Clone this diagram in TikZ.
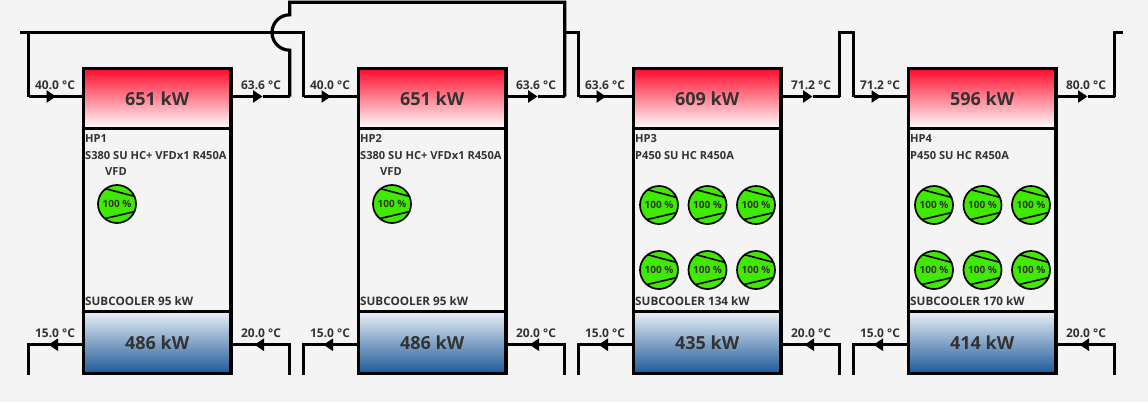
\documentclass[tikz,border=0pt]{standalone}
\usepackage{fontspec}
\setmainfont{Open Sans}
\usetikzlibrary{arrows.meta}
\definecolor{bgcol}{HTML}{F4F4F4}
\definecolor{txtcol}{HTML}{333333}
\definecolor{hotcol}{HTML}{FF0A2A}
\definecolor{coldtop}{HTML}{E9EEF5}
\definecolor{coldcol}{HTML}{1C5A99}
\definecolor{compcol}{HTML}{40EA00}
\tikzset{
  pipe/.style={line width=3.2pt,miter limit=10},
  flow/.style={pipe,-{Triangle[length=9.5pt,width=12pt]}},
  unitbox/.style={draw,line width=3.2pt,minimum width=147.7pt,outer sep=0pt,inner sep=0pt},
  hotbox/.style={unitbox,minimum height=60pt,top color=hotcol,bottom color=white},
  midbox/.style={unitbox,minimum height=183.4pt},
  coldbox/.style={unitbox,minimum height=61.6pt,top color=coldtop,bottom color=coldcol},
  power/.style={text=txtcol,font=\fontsize{18}{20}\selectfont\bfseries},
  templabel/.style={text=txtcol,font=\fontsize{12}{13}\selectfont\bfseries,inner sep=0pt},
  infolabel/.style={text=txtcol,font=\fontsize{11.1}{13}\selectfont\bfseries,inner sep=0pt,anchor=west},
  sublabel/.style={infolabel,font=\fontsize{11.7}{13}\selectfont\bfseries},
  comp/.style={circle,draw,line width=1.7pt,fill=compcol,minimum size=38pt,inner sep=0pt,
    text=txtcol,font=\fontsize{10}{11}\selectfont\bfseries,
    path picture={
      \draw[line width=1.6pt] (path picture bounding box.center) ++(-14,-16) -- ++(32,8.5);
      \draw[line width=1.6pt] (path picture bounding box.center) ++(-14,15) -- ++(32,-7.5);
    }}
}
\begin{document}
\begin{tikzpicture}[x=1pt,y=-1pt]
  \fill[bgcol] (0,0) rectangle (1148,402);
  \useasboundingbox (0,0) rectangle (1148,402);

  % the four units
  \foreach \i/\x/\name/\model/\hot/\cold/\sub/\tin/\tout in {
    1/0/HP1/S380 SU HC+ VFDx1 R450A/651/486/95/40.0/63.6,
    2/275/HP2/S380 SU HC+ VFDx1 R450A/651/486/95/40.0/63.6,
    3/550/HP3/P450 SU HC R450A/609/435/134/63.6/71.2,
    4/825/HP4/P450 SU HC R450A/596/414/170/71.2/80.0} {
    \node[hotbox,power] (hot\i) at (157.2+\x,98.3) {\hot\ kW};
    \node[midbox] (mid\i) at (157.2+\x,220) {};
    \node[coldbox,power] (cold\i) at (157.2+\x,342.5) {\cold\ kW};

    \node[infolabel] (name\i) at (85+\x,138.5) {\name};
    \node[infolabel] (model\i) at (85+\x,155.5) {\model};
    \node[sublabel] (sub\i) at (85+\x,301.5) {SUBCOOLER \sub\ kW};

    \coordinate (ina\i) at (28.5+\x,96.5);
    \coordinate (tipa\i) at (56+\x,96.5);
    \coordinate (outa\i) at (262.5+\x,96.5);
    \coordinate (outb\i) at (289.7+\x,96.5);
    \coordinate (ret\i) at (28.5+\x,344.7);
    \coordinate (retend\i) at (28.5+\x,374.5);
    \coordinate (tipr\i) at (48.5+\x,344.7);
    \coordinate (sup\i) at (289.7+\x,344.7);
    \coordinate (supend\i) at (289.7+\x,374.5);
    \coordinate (tips\i) at (254.5+\x,344.7);

    \draw[pipe] (hot\i.west |- ina\i) -- (ina\i);
    \draw[flow] (ina\i) -- (tipa\i);
    \draw[flow] (hot\i.east |- outb\i) -- (outa\i);
    \draw[pipe] (outa\i) -- (outb\i);
    \draw[pipe] (retend\i) -- (ret\i) -- (hot\i.west |- ret\i);
    \draw[flow] (hot\i.west |- ret\i) -- (tipr\i);
    \draw[pipe] (supend\i) -- (sup\i) -- (hot\i.east |- sup\i);
    \draw[flow] (sup\i) -- (tips\i);

    \node[templabel] (tin\i) at (55+\x,85) {\tin\ °C};
    \node[templabel] (tout\i) at (261+\x,85) {\tout\ °C};
    \node[templabel] (tret\i) at (55+\x,333) {15.0 °C};
    \node[templabel] (tsup\i) at (261+\x,333) {20.0 °C};
  }

  % compressors
  \node[infolabel] (vfd1) at (105,171.5) {VFD};
  \node[infolabel] (vfd2) at (380,171.5) {VFD};
  \node[comp] (ca) at (117,204) {100 \%};
  \node[comp] (cb) at (392,204) {100 \%};
  \foreach \i/\x in {3/659,4/934} {
    \foreach \j/\dx in {1/0,2/48.5,3/97} {
      \node[comp] (cu\i\j) at (\x+\dx,205) {100 \%};
      \node[comp] (cl\i\j) at (\x+\dx,270) {100 \%};
    }
  }

  % pipes between the units
  \coordinate (starta) at (20,32.3);
  \coordinate (turna) at (ina1 |- starta);
  \coordinate (turnb) at (ina2 |- starta);
  \draw[pipe] (starta) -- (turna) -- (ina1);
  \draw[pipe] (starta) -- (turnb) -- (ina2);

  \coordinate (brb) at (289.7,50.2);
  \coordinate (topa) at (289.7,2.3);
  \coordinate (topb) at (564.7,2.3);
  \coordinate (teeb) at (564.7,32.3);
  \coordinate (tura) at (578.5,32.3);
  \draw[pipe] (outb1) -- (brb) arc[start angle=90,end angle=270,radius=17.7] -- (topa) -- (topb) -- (outb2);
  \draw[pipe] (teeb) -- (tura) -- (ina3);

  \coordinate (peaka) at (839.7,32.3);
  \coordinate (peakb) at (853.5,32.3);
  \draw[pipe] (outb3) -- (peaka) -- (peakb) -- (ina4);

  \coordinate (enda) at (1114.7,32.3);
  \coordinate (endb) at (1123,32.3);
  \draw[pipe] (outb4) -- (enda) -- (endb);
\end{tikzpicture}
\end{document}
